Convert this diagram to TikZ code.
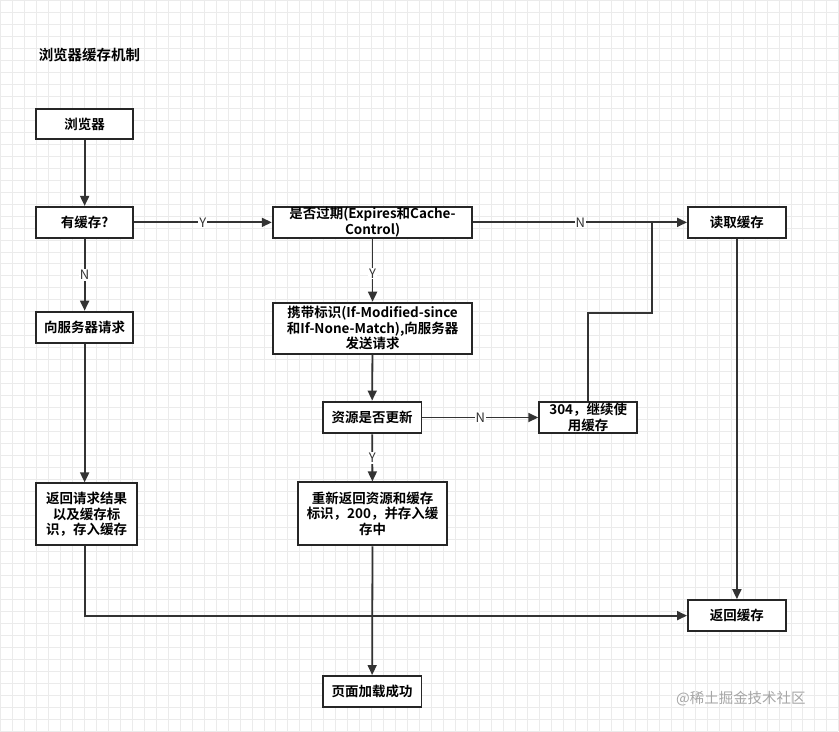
\documentclass[tikz,border=0pt]{standalone}
\usepackage{fontspec}
\setmainfont{Noto Sans CJK SC}
\newfontfamily\cjkb{Noto Sans CJK SC Bold}
\usetikzlibrary{arrows.meta}
\begin{document}
\begin{tikzpicture}[x=1pt,y=-1pt,
  bx/.style={draw=black!85,line width=2pt,fill=white,align=center,inner sep=1pt,font=\cjkb\fontsize{13.5}{15.5}\selectfont},
  ar/.style={draw=black!80,line width=1.8pt,-{Triangle[length=10pt,width=9pt]}},
  ln/.style={draw=black!80,line width=1.8pt},
  lb/.style={fill=white,inner sep=1pt,font=\fontsize{13}{15}\selectfont,text=black!80}]
\fill[white] (0,0) rectangle (839,732);
\foreach \i in {0,...,70} {\draw[black!8,line width=0.6pt] (\i*12,0) -- (\i*12,732);}
\foreach \i in {0,...,61} {\draw[black!8,line width=0.6pt] (0,\i*12) -- (839,\i*12);}
\useasboundingbox (0,0) rectangle (839,732);
\node[anchor=west,font=\cjkb\fontsize{14.5}{16}\selectfont] (t) at (35,55) {浏览器缓存机制};
\node[bx,minimum width=97,minimum height=30] (b) at (84.5,124) {浏览器};
\node[bx,minimum width=97,minimum height=31] (c) at (84.5,222.5) {有缓存?};
\node[bx,minimum width=200,minimum height=31,text width=195] (e) at (373,222.5) {是否过期(Expires和Cache-\\Control)};
\node[bx,minimum width=98,minimum height=31] (r) at (738,222.5) {读取缓存};
\node[bx,minimum width=97,minimum height=31] (s) at (84.5,327.5) {向服务器请求};
\node[bx,minimum width=200,minimum height=51,text width=195] (f) at (373,328.5) {携带标识(If-Modified-since\\和If-None-Match),向服务器\\发送请求};
\node[bx,minimum width=99,minimum height=32] (u) at (372.5,418) {资源是否更新};
\node[bx,minimum width=98,minimum height=32,text width=90] (n) at (589,418) {304，继续使\\用缓存};
\node[bx,minimum width=101,minimum height=62,text width=95] (q) at (86.5,515) {返回请求结果\\以及缓存标\\识，存入缓存};
\node[bx,minimum width=150,minimum height=63,text width=145] (g) at (373,514.5) {重新返回资源和缓存\\标识，200，并存入缓\\存中};
\node[bx,minimum width=98,minimum height=31] (rc) at (738,616.5) {返回缓存};
\node[bx,minimum width=99,minimum height=31] (p) at (372.5,692.5) {页面加载成功};
\node[text=black!35,font=\fontsize{14.5}{16}\selectfont] (w) at (742,700) {@稀土掘金技术社区};
\coordinate (j1) at (589,313); \coordinate (j2) at (653,313); \coordinate (j3) at (653,222.5);
\coordinate (k1) at (85,616.5);
\draw[ar] (b) -- (c);
\draw[ar] (c) -- node[lb,pos=0.5]{Y} (e);
\draw[ar] (e) -- node[lb,pos=0.5]{N} (r);
\draw[ar] (e) -- node[lb,pos=0.55]{Y} (f);
\draw[ar] (c) -- node[lb,pos=0.5]{N} (s);
\draw[ar] (f) -- (u);
\draw[ar] (u) -- node[lb,pos=0.5]{N} (n);
\draw[ar] (u) -- node[lb,pos=0.5]{Y} (g);
\draw[ar] (s.south) -- (s.south|-q.north);
\draw[ln] (n.north) -- (j1) -- (j2) -- (j3);
\draw[ar] (q.south-|k1) -- (k1) -- (rc.west);
\draw[ar] (r) -- (rc);
\draw[ar] (g) -- (p);
\end{tikzpicture}
\end{document}
